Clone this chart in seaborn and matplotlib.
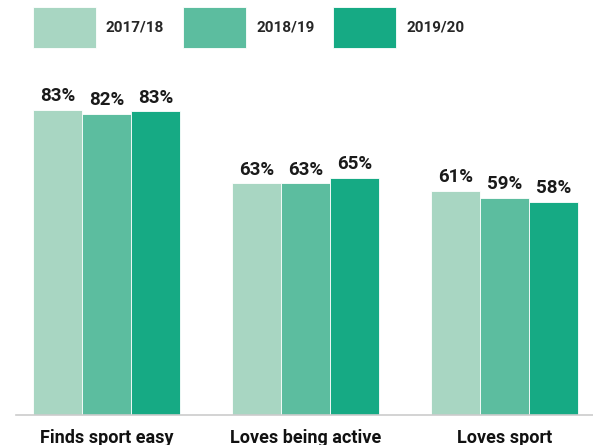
import matplotlib
matplotlib.use('Agg')
import matplotlib.pyplot as plt
import seaborn as sns
import pandas as pd

# ── data ──────────────────────────────────────────────────────────────────────
categories = ['Finds sport easy', 'Loves being active', 'Loves sport']
years      = ['2017/18', '2018/19', '2019/20']
values_1718 = [83.0, 63.0, 61.0]
values_1819 = [82.0, 63.0, 59.0]
values_1920 = [82.6, 64.6, 58.0]
colors     = ['#a8d6c2', '#5cbd9f', '#16aa84']

df = pd.DataFrame({
    'category': categories * 3,
    'year':     [y for y in years for _ in categories],
    'value':    values_1718 + values_1819 + values_1920,
})

sns.set_theme(style='white')
plt.rcParams['font.family'] = ['Roboto', 'DejaVu Sans']

fig = plt.figure(figsize=(5.93, 4.45), dpi=100)
ax = fig.add_axes([16 / 593, 30 / 445, 1 - 16 / 593, 367.5 / 445])

sns.barplot(data=df, x='category', y='value', hue='year', order=categories,
            hue_order=years, palette=colors, width=0.735, saturation=1,
            edgecolor='white', linewidth=0.6, ax=ax)

for cont in ax.containers:
    ax.bar_label(cont, labels=[f'{v:.0f}%' for v in cont.datavalues],
                 padding=3.5, fontsize=13.5, fontweight='semibold', color='#1a1a1a')

ax.set_ylim(0, 100)
ax.set_xlim(-0.455, 2.445)
ax.set_xlabel('')
ax.set_ylabel('')
ax.set_yticks([])
ax.tick_params(axis='x', length=0, pad=10)
for lbl in ax.get_xticklabels():
    lbl.set_fontsize(13)
    lbl.set_fontweight('bold')
    lbl.set_color('#111111')
for s in ['top', 'right', 'left']:
    ax.spines[s].set_visible(False)
ax.spines['bottom'].set_color('#cccccc')
ax.spines['bottom'].set_linewidth(1.2)

# legend: boxes ~63x41 px
handles, labels = ax.get_legend_handles_labels()
ax.legend(handles, labels, loc='upper left', ncol=3, frameon=False,
          bbox_to_anchor=(33 / 593, 1 - 7 / 445), bbox_transform=fig.transFigure,
          borderpad=0, borderaxespad=0,
          handlelength=4.12, handleheight=3.75, handletextpad=0.65,
          columnspacing=1.24, prop={'size': 11, 'weight': 'semibold'})

fig.savefig('out.png', dpi=100)
